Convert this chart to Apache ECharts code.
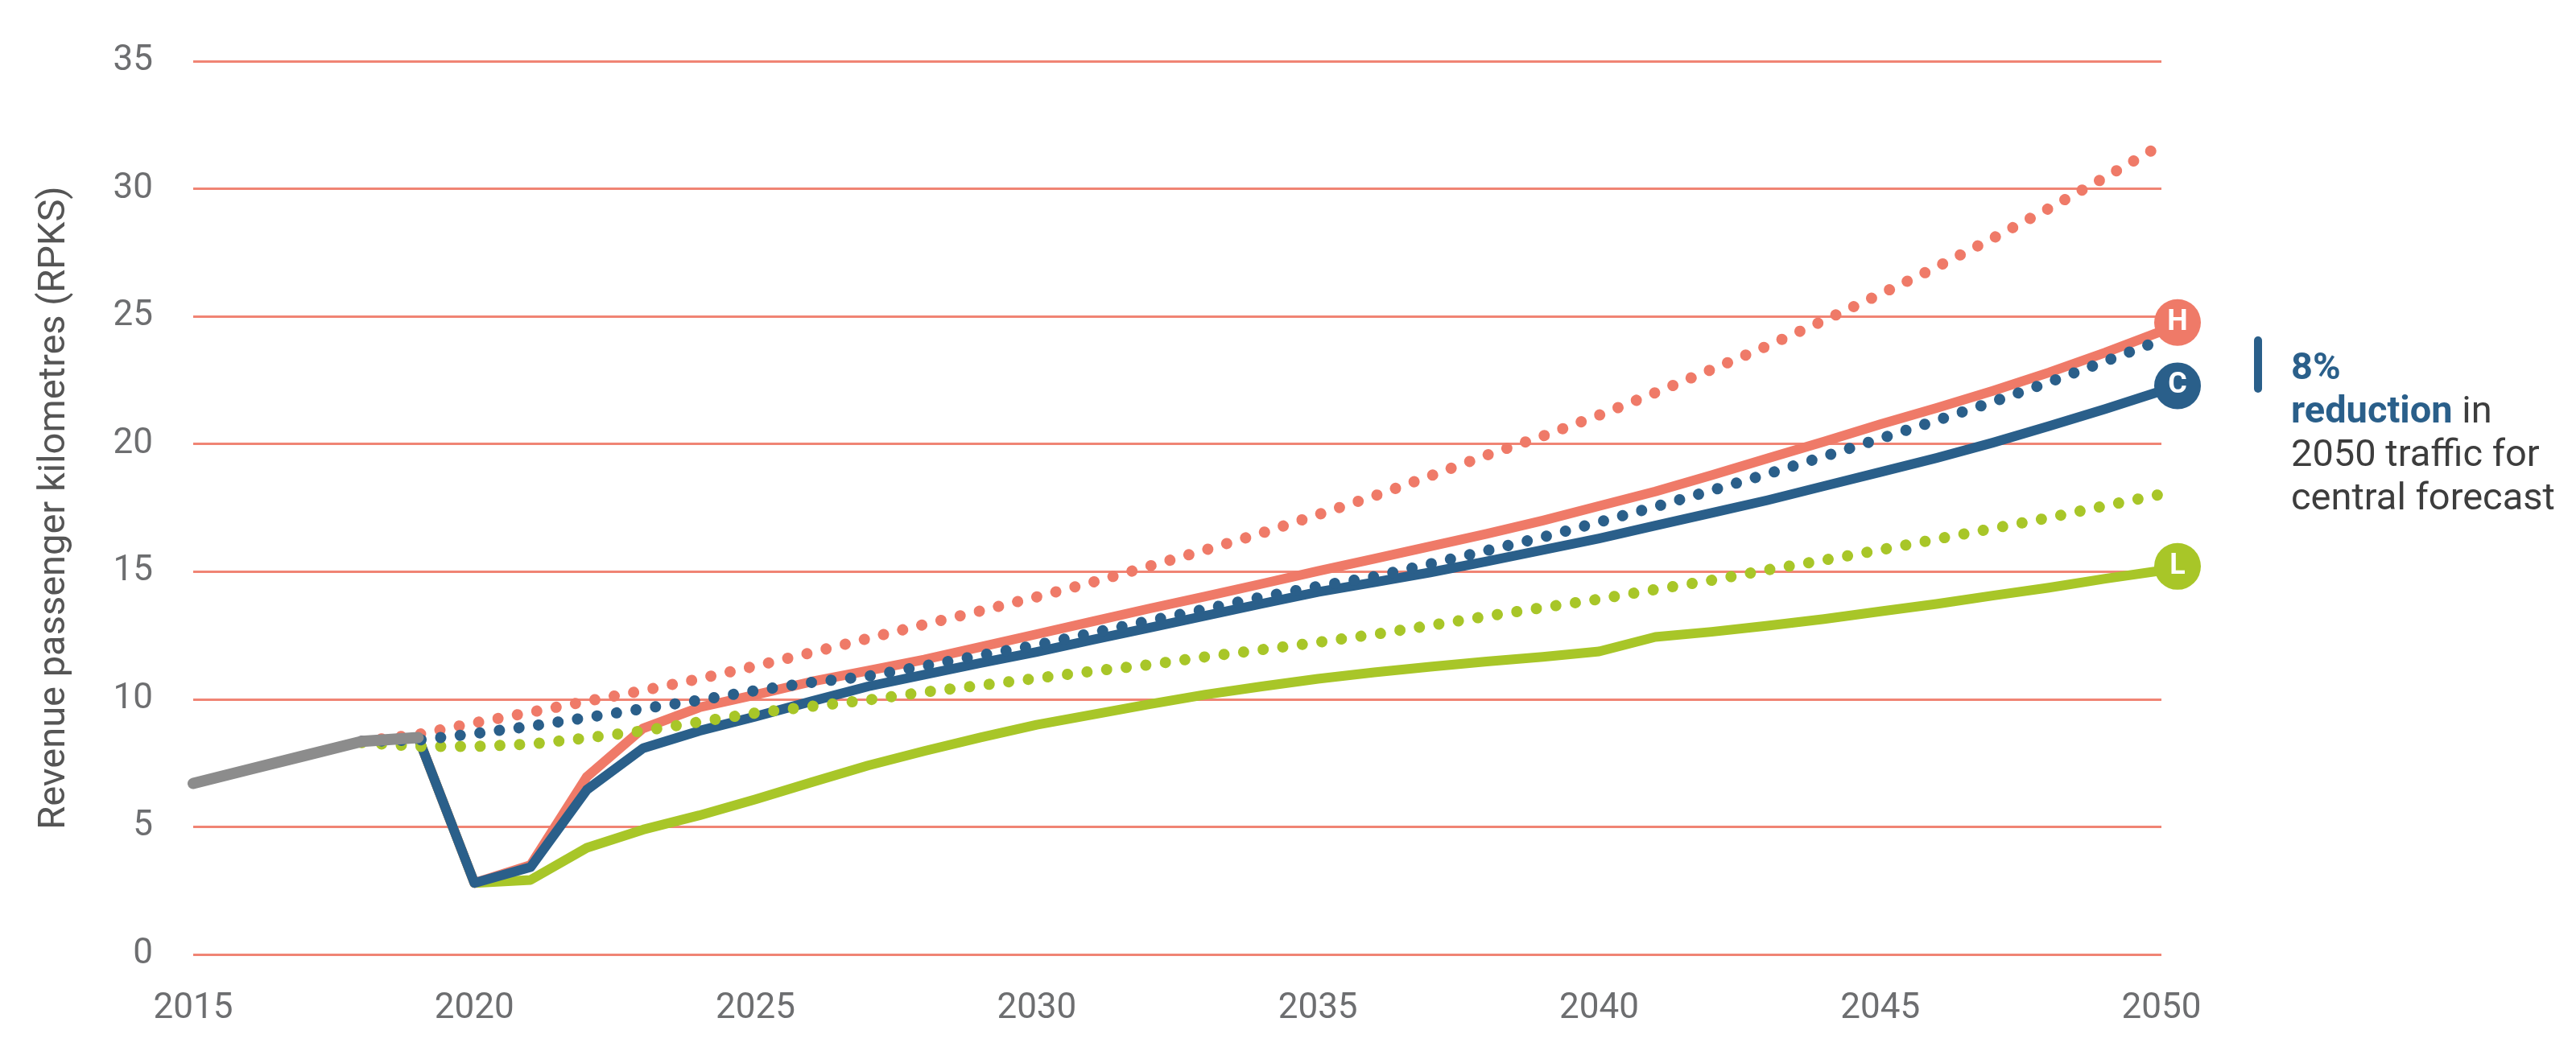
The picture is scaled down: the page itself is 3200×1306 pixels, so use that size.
<!DOCTYPE html>
<html>
<head>
<meta charset="utf-8">
<script src="https://cdn.jsdelivr.net/npm/echarts@6/dist/echarts.min.js"></script>
<style>
html,body{margin:0;padding:0;background:#ffffff;}
#chart{width:3200px;height:1306px;}
</style>
</head>
<body>
<div id="chart"></div>
<script>
// ---------- data ----------
const histYears = [2015, 2016, 2017, 2018, 2019];
const histValues = [6.7, 7.25, 7.8, 8.35, 8.5];

const covidYears = [2019, 2020, 2021, 2022, 2023, 2024, 2025, 2026, 2027, 2028, 2029, 2030,
  2031, 2032, 2033, 2034, 2035, 2036, 2037, 2038, 2039, 2040, 2041, 2042, 2043, 2044, 2045,
  2046, 2047, 2048, 2049, 2050];
const highCovid = [8.5, 2.8, 3.5, 6.96, 8.86, 9.68, 10.17, 10.69, 11.12, 11.55, 12.05, 12.55,
  13.05, 13.55, 14.03, 14.52, 15.02, 15.5, 15.99, 16.48, 17.0, 17.57, 18.14, 18.78, 19.44, 20.09,
  20.77, 21.41, 22.08, 22.8, 23.58, 24.42];
const centralCovid = [8.5, 2.8, 3.42, 6.45, 8.08, 8.76, 9.32, 9.92, 10.5, 10.96, 11.42, 11.85,
  12.33, 12.8, 13.27, 13.74, 14.2, 14.58, 14.97, 15.4, 15.85, 16.3, 16.8, 17.3, 17.8, 18.35,
  18.9, 19.45, 20.05, 20.7, 21.37, 22.08];
const lowCovid = [8.5, 2.8, 2.92, 4.18, 4.89, 5.45, 6.08, 6.75, 7.4, 7.97, 8.5, 9.0, 9.4, 9.8,
  10.18, 10.5, 10.8, 11.05, 11.27, 11.48, 11.66, 11.87, 12.44, 12.64, 12.88, 13.14, 13.44, 13.73,
  14.06, 14.37, 14.72, 15.04];

const preYears = [2018, 2019, 2020, 2021, 2022, 2023, 2024, 2025, 2026, 2027, 2028, 2029, 2030,
  2031, 2032, 2033, 2034, 2035, 2036, 2037, 2038, 2039, 2040, 2041, 2042, 2043, 2044, 2045,
  2046, 2047, 2048, 2049, 2050];
const highPre = [8.35, 8.62, 9.07, 9.49, 9.92, 10.34, 10.8, 11.3, 11.83, 12.38, 12.93, 13.46,
  14.01, 14.59, 15.21, 15.85, 16.51, 17.23, 17.96, 18.75, 19.56, 20.31, 21.13, 22.01, 22.92,
  23.85, 24.84, 25.87, 26.93, 28.06, 29.23, 30.45, 31.72];
const centralPre = [8.35, 8.4, 8.65, 8.94, 9.28, 9.63, 9.96, 10.34, 10.66, 10.9, 11.3, 11.72,
  12.12, 12.6, 13.07, 13.53, 14.0, 14.42, 14.8, 15.3, 15.82, 16.35, 16.94, 17.54, 18.18, 18.83,
  19.51, 20.21, 20.92, 21.65, 22.42, 23.24, 24.08];
const lowPre = [8.3, 8.15, 8.15, 8.24, 8.48, 8.76, 9.11, 9.46, 9.72, 9.97, 10.28, 10.54, 10.82,
  11.1, 11.35, 11.66, 11.94, 12.23, 12.54, 12.89, 13.25, 13.59, 13.92, 14.3, 14.66, 15.07, 15.45,
  15.85, 16.27, 16.69, 17.11, 17.58, 18.03];

const endLetters = ['H', 'C', 'L'];
const endValues = [24.76, 22.28, 15.14];
const endYear = 2050;

const xTicks = [2015, 2020, 2025, 2030, 2035, 2040, 2045, 2050];
const yTicks = [0, 5, 10, 15, 20, 25, 30, 35];

const annotationLines = ['8%', 'reduction', ' in', '2050 traffic for', 'central forecast'];
const yAxisTitle = 'Revenue passenger kilometres (RPKS)';

// ---------- styles ----------
const RED = '#EF7A68', BLUE = '#2A5F8A', GREEN = '#A8C628', GREY = '#8C8C8C';
const GRID = '#F08474';
const FONT = 'Roboto, "Noto Sans", sans-serif';

function pairs(xs, ys) { return xs.map((x, i) => [x, ys[i]]); }

function solid(name, xs, ys, color, z) {
  return {
    name, type: 'line', data: pairs(xs, ys), showSymbol: false, symbol: 'none', z,
    lineStyle: { color, width: 12, cap: 'round', join: 'round' }, silent: true, animation: false
  };
}
function dotted(name, xs, ys, color, z) {
  return {
    name, type: 'line', data: pairs(xs, ys), showSymbol: false, symbol: 'none', z,
    lineStyle: { color, width: 14, type: [0.01, 24.5], cap: 'round', join: 'round' },
    silent: true, animation: false
  };
}

const markerColors = [RED, BLUE, GREEN];
const markerOffsets = [[20, 0], [20, 0], [20, -2]];
const markerSeries = endLetters.map((L, i) => ({
  type: 'scatter', z: 20, silent: true, animation: false,
  data: [[endYear, endValues[i]]],
  symbol: 'circle', symbolSize: 58, symbolOffset: markerOffsets[i],
  itemStyle: { color: markerColors[i], opacity: 1 },
  label: { show: true, position: 'inside', formatter: L, color: '#ffffff',
    fontFamily: FONT, fontWeight: 'bold', fontSize: 36 }
}));

const option = {
  backgroundColor: '#ffffff',
  animation: false,
  grid: { left: 240, right: 515, top: 76, bottom: 120 },
  xAxis: {
    type: 'value', min: 2015, max: 2050, interval: 5,
    axisLine: { show: false }, axisTick: { show: false }, splitLine: { show: false },
    axisLabel: { color: '#6D6E70', fontSize: 44, fontFamily: FONT, margin: 46,
      formatter: v => xTicks.includes(v) ? String(v) : '' }
  },
  yAxis: {
    type: 'value', min: 0, max: 35, interval: 5,
    name: yAxisTitle, nameLocation: 'middle', nameGap: 148, nameRotate: 90,
    nameTextStyle: { color: '#555555', fontSize: 47, fontFamily: FONT },
    axisLine: { show: false }, axisTick: { show: false },
    splitLine: { show: true, lineStyle: { color: GRID, width: 3 } },
    axisLabel: { color: '#6D6E70', fontSize: 44, fontFamily: FONT, margin: 50,
      formatter: v => yTicks.includes(v) ? String(v) : '' }
  },
  series: [
    solid('Low', covidYears, lowCovid, GREEN, 2),
    solid('High', covidYears, highCovid, RED, 3),
    solid('Central', covidYears, centralCovid, BLUE, 4),
    dotted('Low pre-COVID', preYears, lowPre, GREEN, 5),
    dotted('High pre-COVID', preYears, highPre, RED, 6),
    dotted('Central pre-COVID', preYears, centralPre, BLUE, 7),
    {
      name: 'Historic', type: 'line', data: pairs(histYears, histValues), z: 10,
      showSymbol: false, symbol: 'none', silent: true, animation: false,
      lineStyle: { color: GREY, width: 14, cap: 'round', join: 'round' }
    },
    ...markerSeries
  ],
  graphic: [
    { type: 'rect', shape: { x: 2800, y: 418, width: 10, height: 70, r: 5 },
      style: { fill: BLUE }, silent: true },
    { type: 'text', x: 2846, y: 432, silent: true,
      style: {
        text: '{b|' + annotationLines[0] + '}\n{b|' + annotationLines[1] + '}{n|' + annotationLines[2] +
          '}\n{n|' + annotationLines[3] + '}\n{n|' + annotationLines[4] + '}',
        verticalAlign: 'top', align: 'left',
        rich: {
          b: { fontFamily: FONT, fontSize: 47, fontWeight: 'bold', fill: BLUE, color: BLUE, lineHeight: 54 },
          n: { fontFamily: FONT, fontSize: 47, fill: '#3D3D3D', color: '#3D3D3D', lineHeight: 54 }
        }
      }
    }
  ]
};

const chart = echarts.init(document.getElementById('chart'));
chart.setOption(option);
</script>
</body>
</html>
